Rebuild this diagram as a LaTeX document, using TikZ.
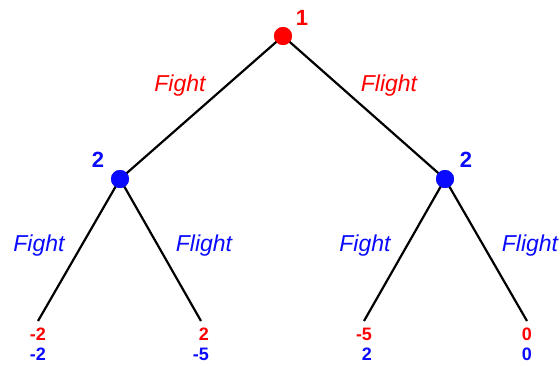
\documentclass[tikz,border=0pt]{standalone}
\usepackage{fontspec}
\setmainfont{Liberation Sans}
\definecolor{pred}{RGB}{255,0,0}
\definecolor{pblue}{RGB}{10,10,255}
\begin{document}
\begin{tikzpicture}[x=1pt,y=-1pt,
  dec/.style={circle,fill=#1,minimum size=18pt,inner sep=0pt},
  edge/.style={line width=2.2pt,black},
  act/.style={text=#1,font=\fontsize{23}{27}\selectfont\itshape,inner sep=0pt},
  plyr/.style={text=#1,font=\fontsize{22}{26}\selectfont\bfseries,inner sep=0pt},
  pay/.style={font=\fontsize{18}{20}\selectfont\bfseries,align=right,inner sep=0pt,anchor=north}]
\useasboundingbox (0,0) rectangle (560,365);
% decision nodes
\node[dec=pred] (r) at (283,36) {};
\node[dec=pblue] (a) at (120,179) {};
\node[dec=pblue] (b) at (445,179) {};
% leaves
\node[pay] (l1) at (38,328) {\textcolor{pred}{-2}\\\textcolor{pblue}{-2}};
\node[pay] (l2) at (201,328) {\textcolor{pred}{2}\\\textcolor{pblue}{-5}};
\node[pay] (l3) at (364,328) {\textcolor{pred}{-5}\\\textcolor{pblue}{2}};
\node[pay] (l4) at (527,328) {\textcolor{pred}{0}\\\textcolor{pblue}{0}};
% edges
\draw[edge] (r.center) -- (a.center);
\draw[edge] (r.center) -- (b.center);
\draw[edge] (a.center) -- ([yshift=7pt]l1.north);
\draw[edge] (a.center) -- ([yshift=7pt]l2.north);
\draw[edge] (b.center) -- ([yshift=7pt]l3.north);
\draw[edge] (b.center) -- ([yshift=7pt]l4.north);
% redraw nodes on top
\node[dec=pred] at (r) {};
\node[dec=pblue] at (a) {};
\node[dec=pblue] at (b) {};
% player labels
\node[plyr=pred] (p1) at (302,18) {1};
\node[plyr=pblue] (p2a) at (98,160) {2};
\node[plyr=pblue] (p2b) at (466,160) {2};
% action labels
\node[act=pred] (f1) at (180,86) {Fight};
\node[act=pred] (f2) at (389,86) {Flight};
\node[act=pblue] (f3) at (39,246) {Fight};
\node[act=pblue] (f4) at (204,246) {Flight};
\node[act=pblue] (f5) at (365,246) {Fight};
\node[act=pblue] (f6) at (530,246) {Flight};
\end{tikzpicture}
\end{document}
